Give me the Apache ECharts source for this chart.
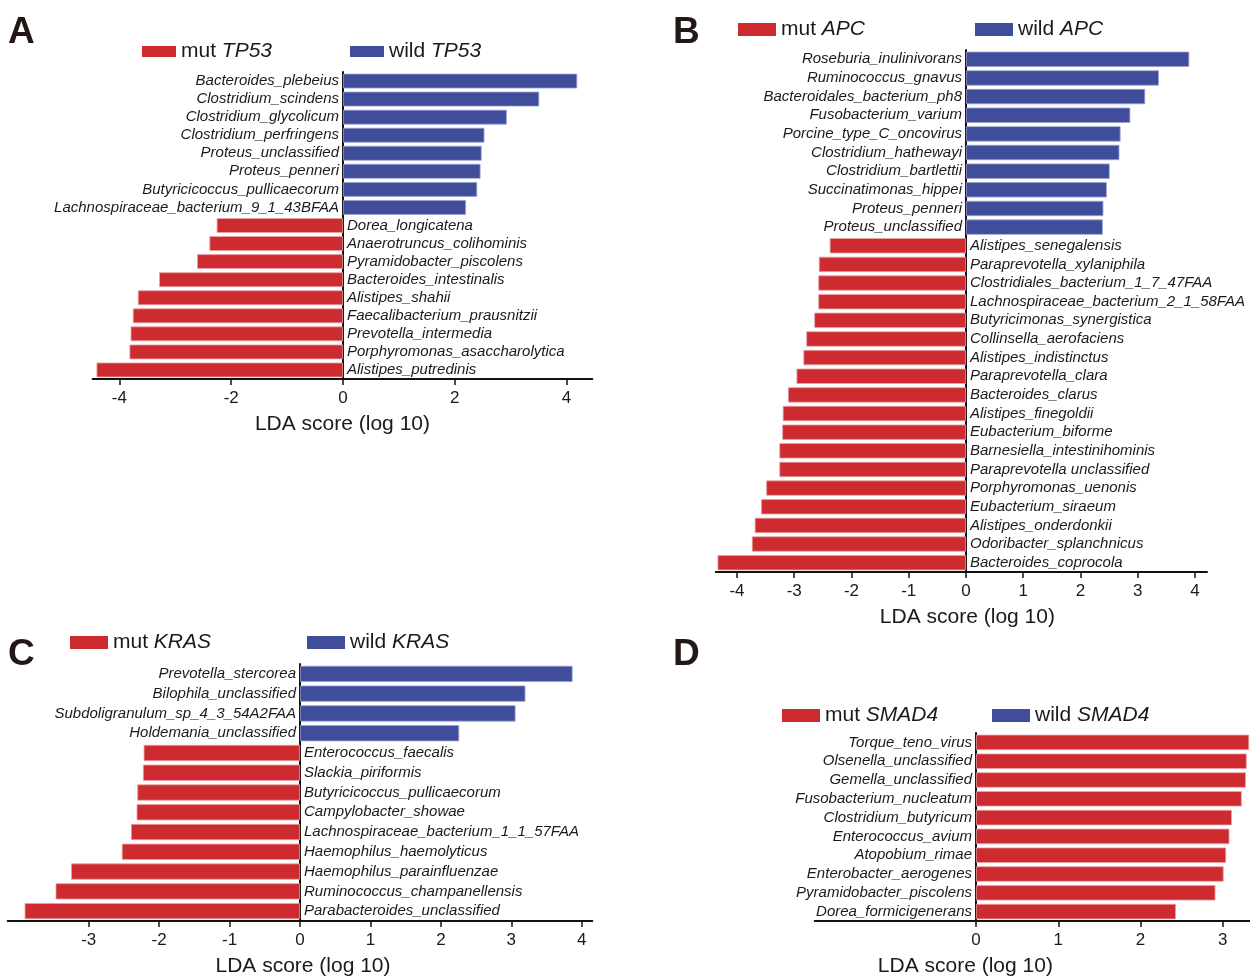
<!doctype html>
<html lang="en">
<head>
    <meta charset="UTF-8">
    <title>LDA score</title>
    <script src="https://cdn.jsdelivr.net/npm/echarts@6/dist/echarts.min.js"></script>
    <style>
        body { margin: 0; background: #fff; }
        #main { width: 1250px; height: 978px; }
    </style>
</head>
<body>
<div id="main"></div>
<script>
    // A: TP53
    var tp53WildTaxa = ['Bacteroides_plebeius', 'Clostridium_scindens', 'Clostridium_glycolicum', 'Clostridium_perfringens',
        'Proteus_unclassified', 'Proteus_penneri', 'Butyricicoccus_pullicaecorum', 'Lachnospiraceae_bacterium_9_1_43BFAA'];
    var tp53WildLda = [4.19, 3.51, 2.93, 2.53, 2.48, 2.46, 2.40, 2.20];
    var tp53MutTaxa = ['Dorea_longicatena', 'Anaerotruncus_colihominis', 'Pyramidobacter_piscolens', 'Bacteroides_intestinalis',
        'Alistipes_shahii', 'Faecalibacterium_prausnitzii', 'Prevotella_intermedia', 'Porphyromonas_asaccharolytica', 'Alistipes_putredinis'];
    var tp53MutLda = [-2.26, -2.39, -2.61, -3.29, -3.67, -3.76, -3.80, -3.82, -4.41];
    var tp53Ticks = [-4, -2, 0, 2, 4];

    // B: APC
    var apcWildTaxa = ['Roseburia_inulinivorans', 'Ruminococcus_gnavus', 'Bacteroidales_bacterium_ph8', 'Fusobacterium_varium',
        'Porcine_type_C_oncovirus', 'Clostridium_hathewayi', 'Clostridium_bartlettii', 'Succinatimonas_hippei', 'Proteus_penneri', 'Proteus_unclassified'];
    var apcWildLda = [3.90, 3.37, 3.13, 2.87, 2.70, 2.68, 2.51, 2.46, 2.40, 2.39];
    var apcMutTaxa = ['Alistipes_senegalensis', 'Paraprevotella_xylaniphila', 'Clostridiales_bacterium_1_7_47FAA', 'Lachnospiraceae_bacterium_2_1_58FAA',
        'Butyricimonas_synergistica', 'Collinsella_aerofaciens', 'Alistipes_indistinctus', 'Paraprevotella_clara', 'Bacteroides_clarus',
        'Alistipes_finegoldii', 'Eubacterium_biforme', 'Barnesiella_intestinihominis', 'Paraprevotella unclassified', 'Porphyromonas_uenonis',
        'Eubacterium_siraeum', 'Alistipes_onderdonkii', 'Odoribacter_splanchnicus', 'Bacteroides_coprocola'];
    var apcMutLda = [-2.38, -2.57, -2.58, -2.58, -2.65, -2.79, -2.84, -2.96, -3.11, -3.20, -3.21, -3.26, -3.26, -3.49, -3.58, -3.69, -3.74, -4.34];
    var apcTicks = [-4, -3, -2, -1, 0, 1, 2, 3, 4];

    // C: KRAS
    var krasWildTaxa = ['Prevotella_stercorea', 'Bilophila_unclassified', 'Subdoligranulum_sp_4_3_54A2FAA', 'Holdemania_unclassified'];
    var krasWildLda = [3.87, 3.20, 3.06, 2.26];
    var krasMutTaxa = ['Enterococcus_faecalis', 'Slackia_piriformis', 'Butyricicoccus_pullicaecorum', 'Campylobacter_showae',
        'Lachnospiraceae_bacterium_1_1_57FAA', 'Haemophilus_haemolyticus', 'Haemophilus_parainfluenzae', 'Ruminococcus_champanellensis', 'Parabacteroides_unclassified'];
    var krasMutLda = [-2.22, -2.23, -2.31, -2.32, -2.40, -2.53, -3.25, -3.47, -3.91];
    var krasTicks = [-3, -2, -1, 0, 1, 2, 3, 4];

    // D: SMAD4 (only mut bars)
    var smad4WildTaxa = [];
    var smad4WildLda = [];
    var smad4MutTaxa = ['Torque_teno_virus', 'Olsenella_unclassified', 'Gemella_unclassified', 'Fusobacterium_nucleatum', 'Clostridium_butyricum',
        'Enterococcus_avium', 'Atopobium_rimae', 'Enterobacter_aerogenes', 'Pyramidobacter_piscolens', 'Dorea_formicigenerans'];
    var smad4MutLda = [3.32, 3.29, 3.28, 3.23, 3.11, 3.08, 3.04, 3.01, 2.91, 2.43];
    var smad4Ticks = [0, 1, 2, 3];

    var RED = '#cd2b30', BLUE = '#3f4d9b', FONT = 'Liberation Sans, Arial, sans-serif';

    var panels = [
        {letter: 'A', gene: 'TP53', wildTaxa: tp53WildTaxa, wildLda: tp53WildLda, mutTaxa: tp53MutTaxa, mutLda: tp53MutLda, ticks: tp53Ticks,
            grid: {left: 92.6, top: 72, width: 499.7, height: 307}, min: -4.48, max: 4.46, letterPos: [8, 14],
            legendY: 41, mutX: 142, wildX: 350, iw: 34, ih: 11, namePad: [0, 0, 0, 0]},
        {letter: 'B', gene: 'APC', wildTaxa: apcWildTaxa, wildLda: apcWildLda, mutTaxa: apcMutTaxa, mutLda: apcMutLda, ticks: apcTicks,
            grid: {left: 715.8, top: 50, width: 491.2, height: 522}, min: -4.37, max: 4.21, letterPos: [673, 14],
            legendY: 19, mutX: 738, wildX: 975, iw: 38, ih: 13, namePad: [0, 0, 0, 12]},
        {letter: 'C', gene: 'KRAS', wildTaxa: krasWildTaxa, wildLda: krasWildLda, mutTaxa: krasMutTaxa, mutLda: krasMutLda, ticks: krasTicks,
            grid: {left: 7.7, top: 664, width: 584.6, height: 259}, min: -4.15, max: 4.15, letterPos: [8, 636],
            legendY: 632, mutX: 70, wildX: 307, iw: 38, ih: 13, namePad: [0, 0, 0, 6]},
        {letter: 'D', gene: 'SMAD4', wildTaxa: smad4WildTaxa, wildLda: smad4WildLda, mutTaxa: smad4MutTaxa, mutLda: smad4MutLda, ticks: smad4Ticks,
            grid: {left: 814.7, top: 733, width: 435.4, height: 190}, min: -1.96, max: 3.33, letterPos: [673, 636],
            legendY: 705, mutX: 782, wildX: 992, iw: 38, ih: 13, namePad: [0, 134, 0, 0]}
    ];

    function barItem(v) {
        if (v === '-') return '-';
        return {value: v, label: {position: v < 0 ? 'right' : 'left'}};
    }

    var option = {
        animation: false,
        textStyle: {fontFamily: FONT},
        title: [], grid: [], xAxis: [], yAxis: [], legend: [], series: []
    };

    panels.forEach(function (p, i) {
        var cats = p.wildTaxa.concat(p.mutTaxa);
        var wildData = [], mutData = [];
        cats.forEach(function (c, k) {
            if (k < p.wildTaxa.length) {
                wildData.push(barItem(p.wildLda[k]));
                mutData.push('-');
            } else {
                wildData.push('-');
                mutData.push(barItem(p.mutLda[k - p.wildTaxa.length]));
            }
        });
        var mutName = 'mut ' + p.gene, wildName = 'wild ' + p.gene;

        option.title.push({text: p.letter, left: p.letterPos[0], top: p.letterPos[1], padding: 0,
            textStyle: {fontSize: 37, fontWeight: 'bold', color: '#231815', fontFamily: FONT}});

        option.grid.push(p.grid);
        option.xAxis.push({
            gridIndex: i, type: 'value', min: p.min, max: p.max,
            splitLine: {show: false},
            axisLine: {show: true, onZero: false, lineStyle: {color: '#111', width: 2}},
            axisTick: {show: true, customValues: p.ticks, length: 6, lineStyle: {color: '#111', width: 1.5}},
            axisLabel: {customValues: p.ticks, fontSize: 17, color: '#1a1a1a', margin: 11},
            name: 'LDA score (log 10)', nameLocation: 'middle', nameGap: 35,
            nameTextStyle: {fontSize: 21, color: '#1a1a1a', padding: p.namePad}
        });
        option.yAxis.push({
            gridIndex: i, type: 'category', inverse: true, data: cats,
            axisLine: {show: true, onZero: true, lineStyle: {color: '#111', width: 2}},
            axisTick: {show: false}, axisLabel: {show: false}, splitLine: {show: false}
        });

        [[mutName, p.mutX, RED], [wildName, p.wildX, BLUE]].forEach(function (l) {
            option.legend.push({
                data: [l[0]], left: l[1], top: p.legendY, padding: 0, selectedMode: false,
                icon: 'rect', itemWidth: p.iw, itemHeight: p.ih,
                itemStyle: {borderWidth: 0},
                textStyle: {fontSize: 21, color: '#1a1a1a', rich: {g: {fontSize: 21, fontStyle: 'italic', color: '#1a1a1a'}}},
                formatter: function (name) {
                    var parts = name.split(' ');
                    return parts[0] + ' {g|' + parts[1] + '}';
                }
            });
        });

        var lbl = {show: true, formatter: '{b}', fontSize: 15, fontStyle: 'italic', color: '#1a1a1a', distance: 4};
        option.series.push({
            name: mutName, type: 'bar', xAxisIndex: i, yAxisIndex: i, data: mutData,
            barCategoryGap: '18%', barGap: '-100%',
            itemStyle: {color: RED, borderColor: '#e9a3a5', borderWidth: 0.8},
            label: lbl
        });
        option.series.push({
            name: wildName, type: 'bar', xAxisIndex: i, yAxisIndex: i, data: wildData,
            barCategoryGap: '18%', barGap: '-100%',
            itemStyle: {color: BLUE, borderColor: '#9aa1cf', borderWidth: 0.8},
            label: lbl
        });
    });

    var myChart = echarts.init(document.getElementById('main'));
    myChart.setOption(option);
</script>
</body>
</html>
